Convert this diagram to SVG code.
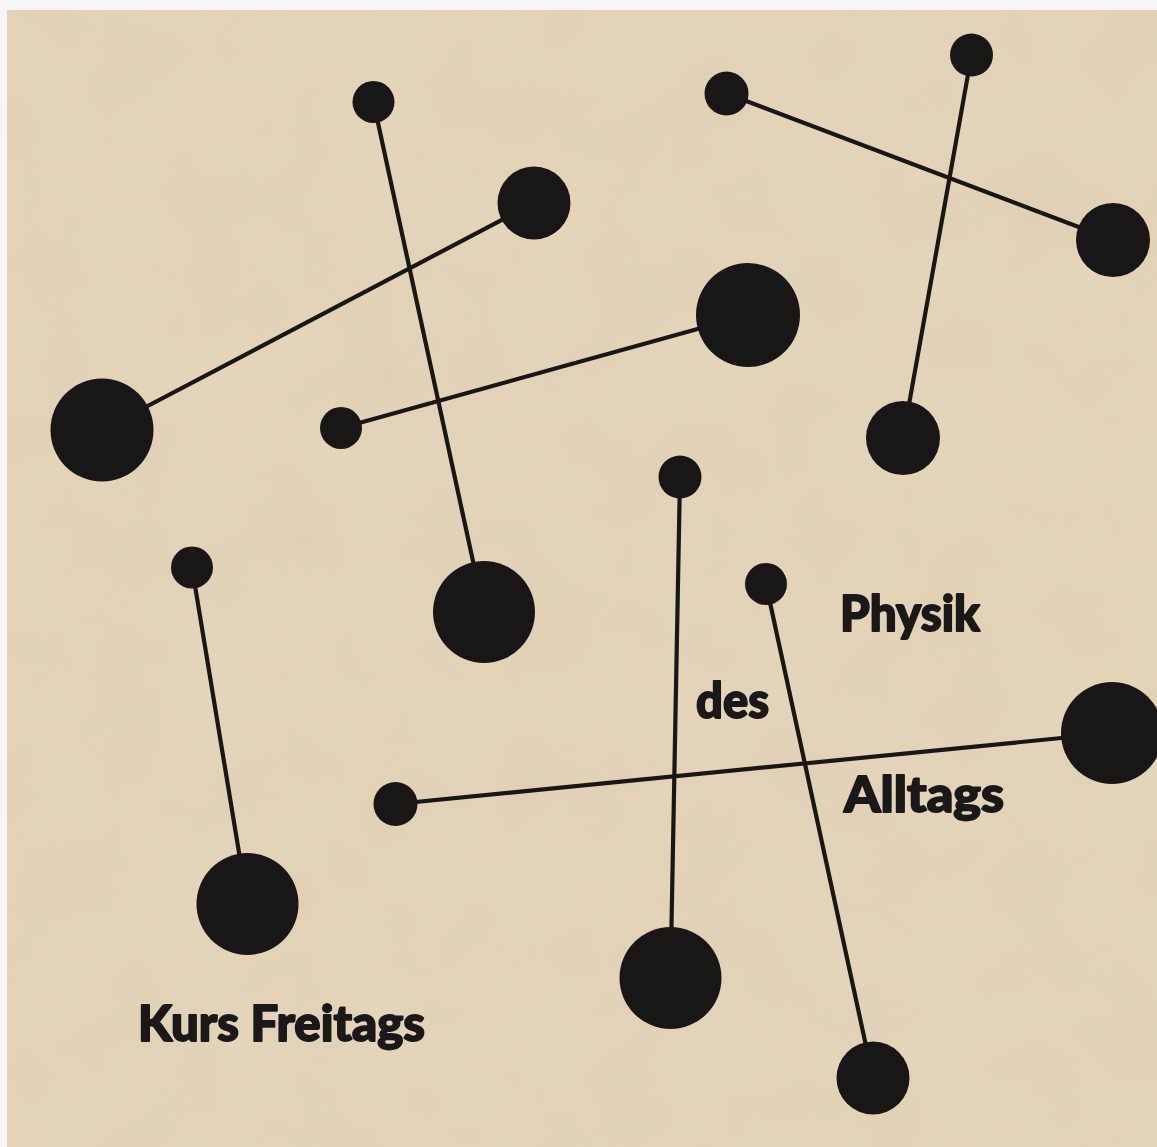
<svg xmlns="http://www.w3.org/2000/svg" width="1157" height="1147" viewBox="0 0 1157 1147">
  <defs>
    <style>
      .dot { fill: #181716; }
      .link { stroke: #181716; stroke-width: 4.2; stroke-linecap: round; fill: none; }
      .title { font-family: "Lato", "Liberation Sans", "DejaVu Sans", sans-serif; font-weight: 900; font-size: 49px; fill: #1a1918; stroke: #1a1918; stroke-width: 1.8; stroke-linejoin: round; }
    </style>
    <filter id="paper" x="0" y="0" width="100%" height="100%">
      <feTurbulence type="fractalNoise" baseFrequency="0.012" numOctaves="3" seed="7" result="n"/>
      <feColorMatrix type="matrix" values="0 0 0 0 0.55  0 0 0 0 0.45  0 0 0 0 0.3  0 0 0 0.5 -0.18" in="n"/>
    </filter>
  </defs>

  <rect x="0" y="0" width="1157" height="1147" fill="#f6f6f6"/>
  <rect id="paper-sheet" x="7" y="10" width="1150" height="1137" fill="#e4d4b9"/>
  <rect x="7" y="10" width="1150" height="1137" filter="url(#paper)" opacity="0.5"/>

  <g id="connectors">
    <line class="link" x1="373.5" y1="102" x2="484" y2="612"/>
    <line class="link" x1="534" y1="203" x2="102" y2="430"/>
    <line class="link" x1="748" y1="315" x2="341" y2="428"/>
    <line class="link" x1="726.5" y1="93.5" x2="1113" y2="240"/>
    <line class="link" x1="971.5" y1="55" x2="903" y2="438"/>
    <line class="link" x1="192" y1="567.5" x2="247.5" y2="904"/>
    <line class="link" x1="680" y1="477" x2="670.5" y2="978"/>
    <line class="link" x1="766" y1="584" x2="873" y2="1078"/>
    <line class="link" x1="395.5" y1="804" x2="1112" y2="733"/>
  </g>

  <g id="node-a1"><circle class="dot" cx="373.5" cy="102" r="21"/></g>
  <g id="node-a2"><circle class="dot" cx="484" cy="612" r="51"/></g>
  <g id="node-b1"><circle class="dot" cx="534" cy="203" r="36.5"/></g>
  <g id="node-b2"><circle class="dot" cx="102" cy="430" r="51.5"/></g>
  <g id="node-c1"><circle class="dot" cx="748" cy="315" r="52"/></g>
  <g id="node-c2"><circle class="dot" cx="341" cy="428" r="21"/></g>
  <g id="node-d1"><circle class="dot" cx="726.5" cy="93.5" r="22"/></g>
  <g id="node-d2"><circle class="dot" cx="1113" cy="240" r="37"/></g>
  <g id="node-e1"><circle class="dot" cx="971.5" cy="55" r="21.5"/></g>
  <g id="node-e2"><circle class="dot" cx="903" cy="438" r="37"/></g>
  <g id="node-f1"><circle class="dot" cx="192" cy="567.5" r="21"/></g>
  <g id="node-f2"><circle class="dot" cx="247.5" cy="904" r="51"/></g>
  <g id="node-g1"><circle class="dot" cx="680" cy="477" r="21.5"/></g>
  <g id="node-g2"><circle class="dot" cx="670.5" cy="978" r="51"/></g>
  <g id="node-h1"><circle class="dot" cx="766" cy="584" r="21"/></g>
  <g id="node-h2"><circle class="dot" cx="873" cy="1078" r="36.5"/></g>
  <g id="node-i1"><circle class="dot" cx="395.5" cy="804" r="22"/></g>
  <g id="node-i2"><circle class="dot" cx="1112" cy="733" r="51"/></g>

  <g id="labels">
    <text class="title" x="840" y="631" textLength="140" lengthAdjust="spacingAndGlyphs">Physik</text>
    <text class="title" x="696" y="717.5" textLength="73" lengthAdjust="spacingAndGlyphs">des</text>
    <text class="title" x="844" y="812" textLength="160" lengthAdjust="spacingAndGlyphs">Alltags</text>
    <text class="title" x="138" y="1040.5" textLength="287" lengthAdjust="spacingAndGlyphs">Kurs Freitags</text>
  </g>
</svg>
